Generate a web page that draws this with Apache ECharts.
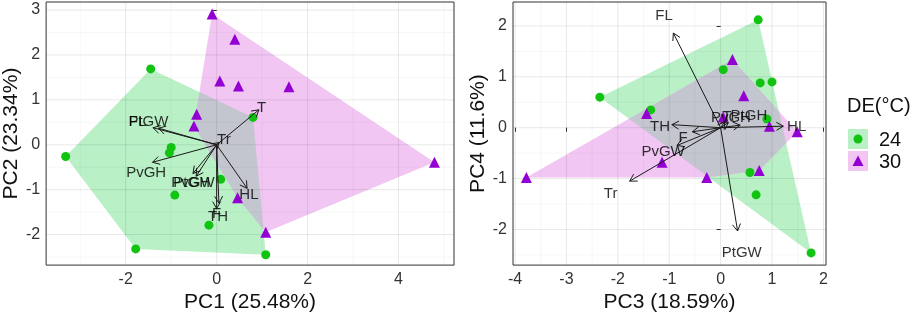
<!DOCTYPE html>
<html>
<head>
<meta charset="utf-8">
<script src="https://cdn.jsdelivr.net/npm/echarts@6/dist/echarts.min.js"></script>
<style>
  html, body { margin: 0; padding: 0; background: #fff; }
  #chart { width: 913px; height: 318px; }
</style>
</head>
<body>
<div id="chart"></div>
<script>
  // scores, PC1 x PC2
  var pc12_24 = [[-1.45, 1.69], [-3.32, -0.26], [-1.78, -2.32], [1.08, -2.45], [-1.00, -0.06],
                 [-1.04, -0.18], [-0.92, -1.12], [0.09, -0.77], [-0.17, -1.79], [0.80, 0.61]];
  var pc12_30 = [[-0.10, 2.91], [0.40, 2.35], [0.07, 1.42], [0.48, 1.31], [1.59, 1.29],
                 [-0.44, 0.68], [-0.50, 0.42], [4.79, -0.39], [0.46, -1.18], [1.08, -1.95]];
  // scores, PC3 x PC4
  var pc34_24 = [[-2.35, 0.60], [-1.36, 0.35], [0.05, 1.14], [0.73, 2.12], [0.77, 0.88],
                 [1.00, 0.90], [0.90, 0.17], [0.57, -0.88], [0.69, -1.32], [1.76, -2.46]];
  var pc34_30 = [[-3.78, -0.98], [-1.44, 0.28], [-1.14, -0.68], [-0.27, -0.98], [0.23, 1.34],
                 [0.45, 0.63], [0.05, 0.21], [0.95, 0.03], [0.75, -0.84], [1.49, -0.08]];

  // variable loadings (arrow tips) and label anchors
  var vars12 = ['T', 'Tr', 'FL', 'PtGW', 'PvGH', 'PtGH', 'PvGW', 'HL', 'F', 'TH'];
  var load12 = [[0.93, 0.78], [0.06, 0.05], [-1.40, 0.38], [-1.28, 0.37], [-1.41, -0.39],
                [-0.45, -0.70], [-0.52, -0.64], [0.67, -0.97], [0.05, -1.30], [0.00, -1.42]];
  var lab12 = [[0.99, 0.82], [0.16, 0.12], [-1.74, 0.50], [-1.50, 0.50], [-1.55, -0.62],
               [-0.55, -0.85], [-0.52, -0.85], [0.71, -1.12], [0.00, -1.53], [0.03, -1.60]];
  var vars34 = ['FL', 'PtGW', 'HL', 'TH', 'Tr', 'F', 'PvGW', 'PvGH', 'PtGH', 'T'];
  var load34 = [[-0.92, 1.86], [0.33, -2.03], [1.22, 0.03], [-0.95, 0.06], [-1.77, -1.05],
                [-0.55, -0.08], [-0.85, -0.35], [0.15, 0.10], [0.38, 0.05], [0.08, 0.12]];
  var lab34 = [[-1.10, 2.20], [0.41, -2.46], [1.48, 0.02], [-1.18, 0.02], [-2.14, -1.30],
               [-0.73, -0.19], [-1.12, -0.48], [0.20, 0.20], [0.55, 0.23], [0.12, 0.22]];

  // axis ranges and ticks
  var range12 = { x: [-3.75, 5.22], y: [-2.68, 3.18] };
  var range34 = { x: [-4.04, 2.05], y: [-2.70, 2.47] };
  var xTicks12 = [-2, 0, 2, 4], xMinor12 = [-3, -1, 1, 3, 5];
  var yTicks12 = [-2, -1, 0, 1, 2, 3], yMinor12 = [-2.5, -1.5, -0.5, 0.5, 1.5, 2.5];
  var xTicks34 = [-4, -3, -2, -1, 0, 1, 2], xMinor34 = [-3.5, -2.5, -1.5, -0.5, 0.5, 1.5];
  var yTicks34 = [-2, -1, 0, 1, 2], yMinor34 = [-2.5, -1.5, -0.5, 0.5, 1.5];

  var greenPt = '#12C412', purplePt = '#9400D3';
  var greenFill = '#B9F0C6', pinkFill = '#F1C6F3', grayFill = '#C3C5CF';
  var font = 'Liberation Sans, Arial, sans-serif';

  function cross(o, a, b) {
    return (a[0] - o[0]) * (b[1] - o[1]) - (a[1] - o[1]) * (b[0] - o[0]);
  }
  // convex hull, counter-clockwise
  function hull(pts) {
    var p = pts.slice().sort(function (a, b) { return a[0] - b[0] || a[1] - b[1]; });
    var lo = [], up = [];
    p.forEach(function (q) {
      while (lo.length >= 2 && cross(lo[lo.length - 2], lo[lo.length - 1], q) <= 0) lo.pop();
      lo.push(q);
    });
    for (var i = p.length - 1; i >= 0; i--) {
      var q = p[i];
      while (up.length >= 2 && cross(up[up.length - 2], up[up.length - 1], q) <= 0) up.pop();
      up.push(q);
    }
    lo.pop(); up.pop();
    return lo.concat(up);
  }
  function inter(p1, p2, a, b) {
    var d1 = cross(a, b, p1), d2 = cross(a, b, p2);
    var t = d1 / (d1 - d2);
    return [p1[0] + (p2[0] - p1[0]) * t, p1[1] + (p2[1] - p1[1]) * t];
  }
  // overlap of two convex polygons
  function clip(subj, cl) {
    var out = subj;
    for (var i = 0; i < cl.length && out.length; i++) {
      var a = cl[i], b = cl[(i + 1) % cl.length];
      var inp = out; out = [];
      for (var j = 0; j < inp.length; j++) {
        var cur = inp[j], prev = inp[(j + inp.length - 1) % inp.length];
        var cIn = cross(a, b, cur) >= 0, pIn = cross(a, b, prev) >= 0;
        if (cIn) {
          if (!pIn) out.push(inter(prev, cur, a, b));
          out.push(cur);
        } else if (pIn) {
          out.push(inter(prev, cur, a, b));
        }
      }
    }
    return out;
  }

  function polySeries(idx, poly, color) {
    return {
      type: 'custom', xAxisIndex: idx, yAxisIndex: idx, silent: true, z: 1,
      data: [[0, 0]],
      renderItem: function (params, api) {
        return {
          type: 'polygon',
          shape: { points: poly.map(function (p) { return api.coord(p); }) },
          style: { fill: color }
        };
      }
    };
  }

  function gridSeries(idx, range, xMaj, xMin, yMaj, yMin) {
    var lines = [];
    xMaj.forEach(function (v) { lines.push([v, 0, 1]); });
    xMin.forEach(function (v) { lines.push([v, 0, 0]); });
    yMaj.forEach(function (v) { lines.push([v, 1, 1]); });
    yMin.forEach(function (v) { lines.push([v, 1, 0]); });
    return {
      type: 'custom', xAxisIndex: idx, yAxisIndex: idx, silent: true, z: 2,
      encode: { x: 2, y: 2 },
      data: lines,
      renderItem: function (params, api) {
        var v = api.value(0), dir = api.value(1), major = api.value(2);
        var p1, p2;
        if (dir === 0) {
          p1 = api.coord([v, range.y[0]]); p2 = api.coord([v, range.y[1]]);
        } else {
          p1 = api.coord([range.x[0], v]); p2 = api.coord([range.x[1], v]);
        }
        return {
          type: 'line',
          shape: { x1: p1[0], y1: p1[1], x2: p2[0], y2: p2[1] },
          style: { stroke: major ? 'rgba(0,0,0,0.09)' : 'rgba(0,0,0,0.05)', lineWidth: major ? 1 : 0.7 }
        };
      }
    };
  }

  function arrowSeries(idx, load) {
    return {
      type: 'custom', xAxisIndex: idx, yAxisIndex: idx, silent: true, z: 4,
      data: load,
      renderItem: function (params, api) {
        var o = api.coord([0, 0]);
        var t = api.coord([api.value(0), api.value(1)]);
        var ang = Math.atan2(t[1] - o[1], t[0] - o[0]);
        var len = 8, spread = Math.PI / 6;
        var h1 = [t[0] - len * Math.cos(ang - spread), t[1] - len * Math.sin(ang - spread)];
        var h2 = [t[0] - len * Math.cos(ang + spread), t[1] - len * Math.sin(ang + spread)];
        var st = { stroke: '#1a1a1a', lineWidth: 1, fill: null };
        return {
          type: 'group',
          children: [
            { type: 'line', shape: { x1: o[0], y1: o[1], x2: t[0], y2: t[1] }, style: st },
            { type: 'polyline', shape: { points: [h1, t, h2] }, style: st }
          ]
        };
      }
    };
  }

  function labelSeries(idx, names, pos) {
    return {
      type: 'scatter', xAxisIndex: idx, yAxisIndex: idx, silent: true, z: 5,
      symbolSize: 0,
      data: names.map(function (n, i) { return { name: n, value: pos[i] }; }),
      label: {
        show: true, position: 'inside', formatter: '{b}',
        color: '#000', fontSize: 15, fontFamily: font
      }
    };
  }

  function pointSeries(idx, data, color, symbol, size) {
    return {
      type: 'scatter', xAxisIndex: idx, yAxisIndex: idx, z: 3, silent: true,
      symbol: symbol, symbolSize: size,
      itemStyle: { color: color, opacity: 1 },
      data: data
    };
  }

  function xAxis(idx, range, ticks, name) {
    return {
      type: 'value', gridIndex: idx, min: range[0], max: range[1],
      name: name, nameLocation: 'middle', nameGap: 26,
      nameTextStyle: { color: '#111', fontSize: 21, fontFamily: font },
      axisLine: { show: false },
      axisTick: { show: true, customValues: ticks, length: 4, lineStyle: { color: '#333' } },
      axisLabel: { customValues: ticks, color: '#333', fontSize: 16, fontFamily: font, margin: 6 },
      splitLine: { show: false }
    };
  }
  function yAxis(idx, range, ticks, name, gap) {
    return {
      type: 'value', gridIndex: idx, min: range[0], max: range[1],
      name: name, nameLocation: 'middle', nameGap: gap,
      nameTextStyle: { color: '#111', fontSize: 21, fontFamily: font },
      axisLine: { show: false },
      axisTick: { show: true, customValues: ticks, length: 4, lineStyle: { color: '#333' } },
      axisLabel: { customValues: ticks, color: '#333', fontSize: 16, fontFamily: font, margin: 6 },
      splitLine: { show: false }
    };
  }

  var hull12a = hull(pc12_24), hull12b = hull(pc12_30);
  var hull34a = hull(pc34_24), hull34b = hull(pc34_30);

  var myChart = echarts.init(document.getElementById('chart'));
  var option = {
    animation: false,
    backgroundColor: '#fff',
    grid: [
      { left: 45, top: 2, width: 409, height: 266, show: true, borderColor: '#333', borderWidth: 1 },
      { left: 513, top: 2, width: 313, height: 266, show: true, borderColor: '#333', borderWidth: 1 }
    ],
    xAxis: [
      xAxis(0, range12.x, xTicks12, 'PC1 (25.48%)'),
      xAxis(1, range34.x, xTicks34, 'PC3 (18.59%)')
    ],
    yAxis: [
      yAxis(0, range12.y, yTicks12, 'PC2 (23.34%)', 22),
      yAxis(1, range34.y, yTicks34, 'PC4 (11.6%)', 24)
    ],
    series: [
      polySeries(0, hull12a, greenFill),
      polySeries(0, hull12b, pinkFill),
      polySeries(0, clip(hull12a, hull12b), grayFill),
      gridSeries(0, range12, xTicks12, xMinor12, yTicks12, yMinor12),
      pointSeries(0, pc12_24, greenPt, 'circle', 9),
      pointSeries(0, pc12_30, purplePt, 'triangle', 11),
      arrowSeries(0, load12),
      labelSeries(0, vars12, lab12),

      polySeries(1, hull34a, greenFill),
      polySeries(1, hull34b, pinkFill),
      polySeries(1, clip(hull34a, hull34b), grayFill),
      gridSeries(1, range34, xTicks34, xMinor34, yTicks34, yMinor34),
      pointSeries(1, pc34_24, greenPt, 'circle', 9),
      pointSeries(1, pc34_30, purplePt, 'triangle', 11),
      arrowSeries(1, load34),
      labelSeries(1, vars34, lab34)
    ],
    graphic: [
      { type: 'text', left: 847, top: 96, style: { text: 'DE(°C)', fontSize: 20, fontFamily: font, fill: '#111' } },
      { type: 'rect', shape: { x: 848, y: 129, width: 20, height: 20 }, style: { fill: greenFill } },
      { type: 'circle', shape: { cx: 858, cy: 139, r: 4.5 }, style: { fill: greenPt } },
      { type: 'rect', shape: { x: 848, y: 151, width: 20, height: 20 }, style: { fill: pinkFill } },
      { type: 'polygon', shape: { points: [[858, 155.5], [852.5, 166], [863.5, 166]] }, style: { fill: purplePt } },
      { type: 'text', left: 879, top: 130, style: { text: '24', fontSize: 20, fontFamily: font, fill: '#111' } },
      { type: 'text', left: 879, top: 152, style: { text: '30', fontSize: 20, fontFamily: font, fill: '#111' } }
    ]
  };
  myChart.setOption(option);
</script>
</body>
</html>
